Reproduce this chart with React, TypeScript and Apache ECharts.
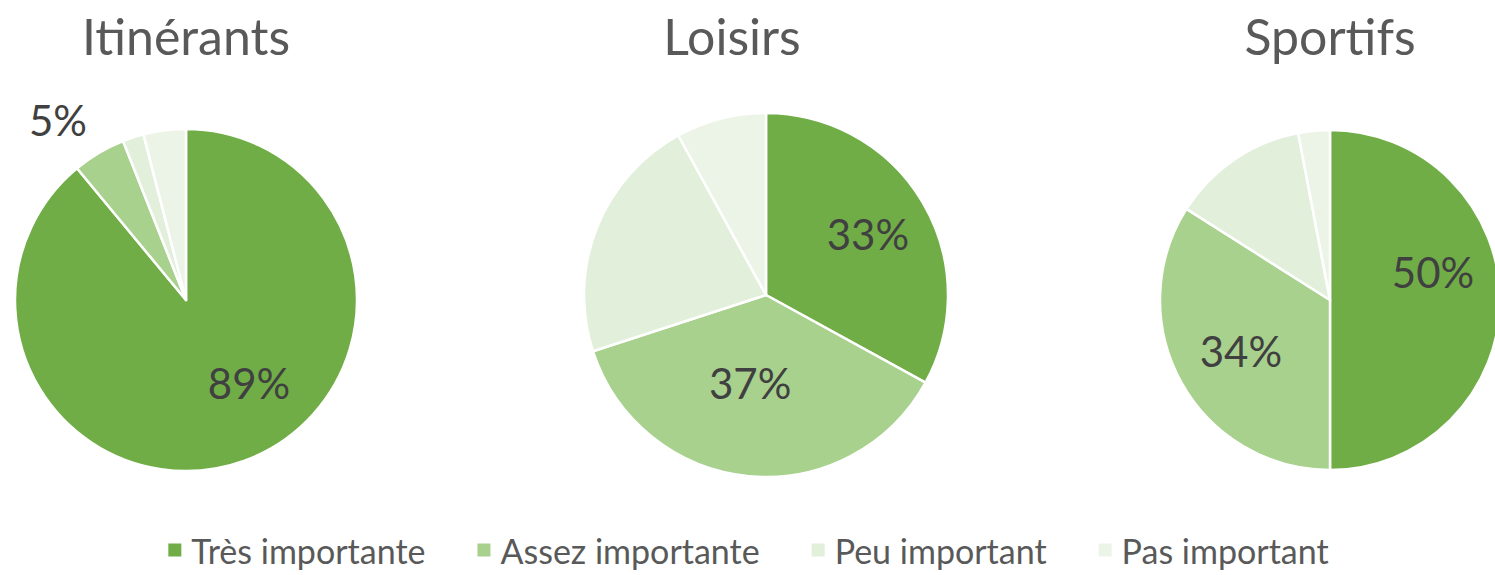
import React, { useEffect, useRef } from "react";
import * as echarts from "echarts";

const categories = ["Très importante", "Assez importante", "Peu important", "Pas important"];
const groups = ["Itinérants", "Loisirs", "Sportifs"];
const itinerants = [89, 5, 2, 4];
const loisirs = [33, 37, 22, 8];
const sportifs = [50, 34, 13, 3];
const colors = ["#70AD47", "#A9D18E", "#E2EFDA", "#ECF4E7"];

const FONT = "Lato, 'Open Sans', sans-serif";

export default function App() {
  const ref = useRef<HTMLDivElement>(null);
  useEffect(() => {
    document.body.style.margin = "0";
    const chart = echarts.init(ref.current!, null, { renderer: "svg" });
    const pies = [
      { name: groups[0], values: itinerants, center: [186, 300], r: 171, titleX: 186, offsets: [[33, 0], [-83, -104]] },
      { name: groups[1], values: loisirs, center: [766, 295], r: 182, titleX: 732, offsets: [[21, -13], [-7, -6]] },
      { name: groups[2], values: sportifs, center: [1330, 300], r: 170, titleX: 1330, offsets: [[15, -28], [-12, 9]] },
    ];
    const series = pies.map((p) => ({
      type: "pie",
      name: p.name,
      center: p.center,
      radius: [0, p.r],
      startAngle: 90,
      clockwise: true,
      avoidLabelOverlap: false,
      itemStyle: { borderColor: "#ffffff", borderWidth: 2.5 },
      label: {
        show: false,
        position: "inside",
        formatter: "{c}%",
        fontSize: 42,
        fontFamily: FONT,
        color: "#404040",
      },
      labelLine: { show: false },
      emphasis: { disabled: true },
      data: p.values.map((v, i) => ({
        name: categories[i],
        value: v,
        itemStyle: { color: colors[i] },
        label: i < 2 ? { show: true, offset: p.offsets[i] } : { show: false },
      })),
    }));
    chart.setOption({
      animation: false,
      color: colors,
      legend: {
        data: categories,
        bottom: 3,
        left: "center",
        icon: "rect",
        itemWidth: 15,
        itemHeight: 15,
        itemGap: 50,
        textStyle: { fontSize: 34, fontFamily: FONT, color: "#595959", padding: [0, 0, 0, 4] },
      },
      graphic: pies.map((p) => ({
        type: "text",
        x: p.titleX,
        y: 36,
        style: {
          text: p.name,
          font: `50px ${FONT}`,
          fill: "#595959",
          textAlign: "center",
          textVerticalAlign: "middle",
        },
      })),
      series,
    });
    return () => chart.dispose();
  }, []);
  return (
    <div
      ref={ref}
      style={{ position: "fixed", left: 0, top: 0, width: 1495, height: 575, background: "#fff" }}
    />
  );
}
